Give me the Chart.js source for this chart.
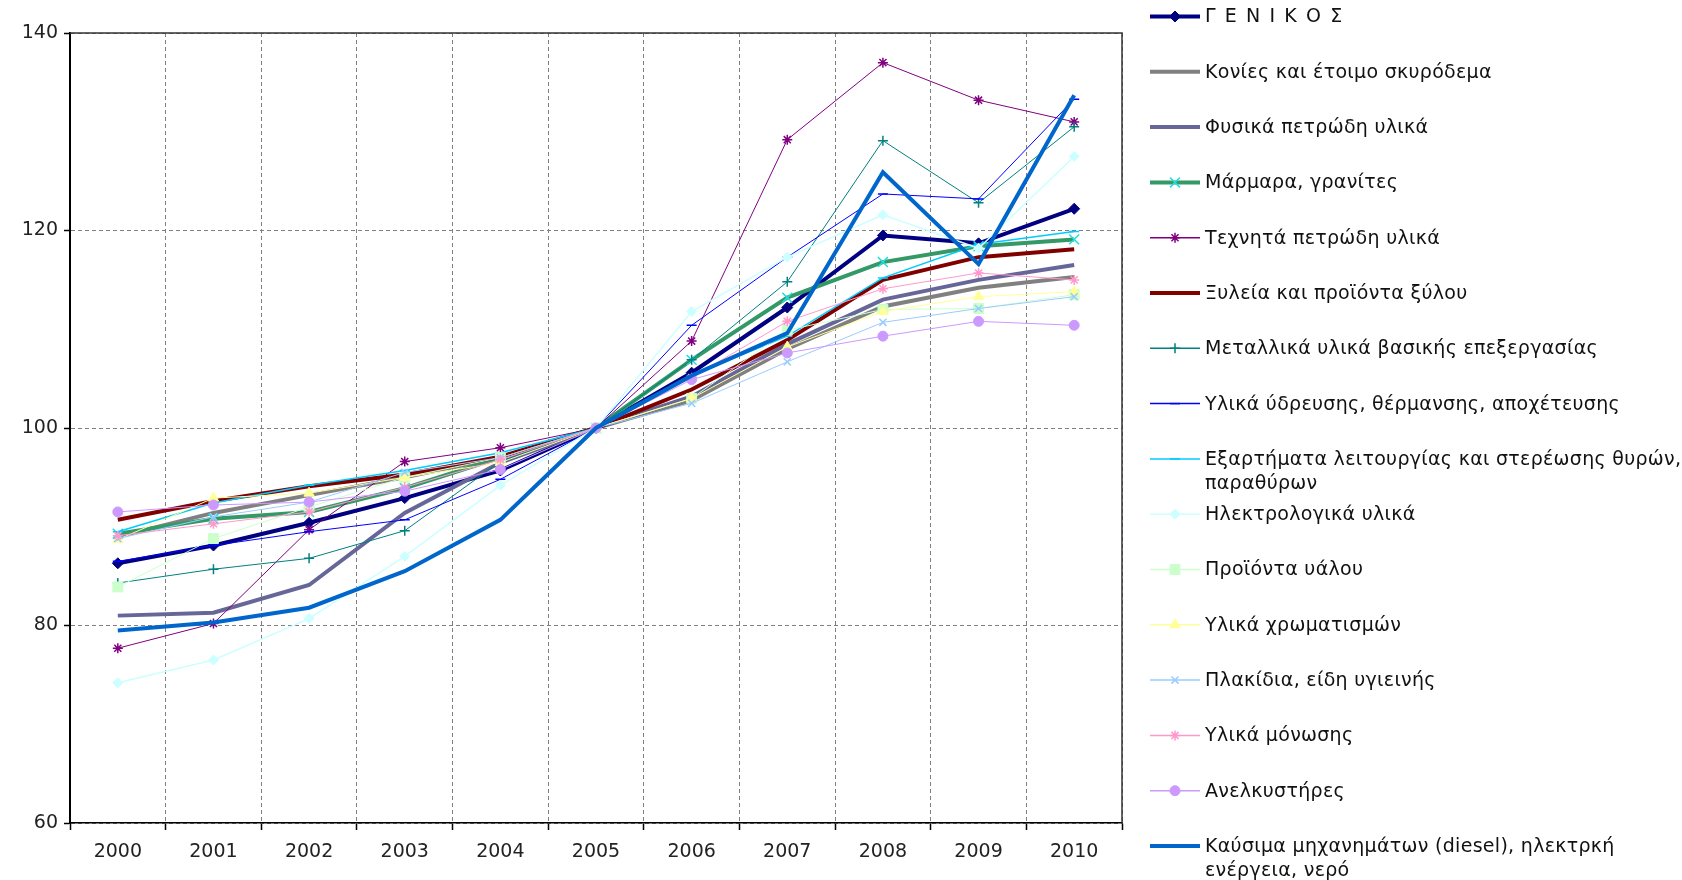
<!DOCTYPE html>
<html>
<head>
<meta charset="utf-8">
<script src="https://cdn.jsdelivr.net/npm/chart.js@4.4.0/dist/chart.umd.min.js"></script>
<style>
html,body{margin:0;padding:0;background:#fff;}
#wrap{position:relative;width:1682px;height:880px;}
</style>
</head>
<body>
<div id="wrap"><canvas id="c" width="1682" height="880"></canvas></div>
<script>
const years = ['2000','2001','2002','2003','2004','2005','2006','2007','2008','2009','2010'];
const yTicks = [60, 80, 100, 120, 140];

const seriesNames = [
  'Γ Ε Ν Ι Κ Ο Σ',
  'Κονίες και έτοιμο σκυρόδεμα',
  'Φυσικά πετρώδη υλικά',
  'Μάρμαρα, γρανίτες',
  'Τεχνητά πετρώδη υλικά',
  'Ξυλεία και προϊόντα ξύλου',
  'Μεταλλικά υλικά βασικής επεξεργασίας',
  'Υλικά ύδρευσης, θέρμανσης, αποχέτευσης',
  'Εξαρτήματα λειτουργίας και στερέωσης θυρών,\nπαραθύρων',
  'Ηλεκτρολογικά υλικά',
  'Προϊόντα υάλου',
  'Υλικά χρωματισμών',
  'Πλακίδια, είδη υγιεινής',
  'Υλικά μόνωσης',
  'Ανελκυστήρες',
  'Καύσιμα μηχανημάτων (diesel), ηλεκτρκή\nενέργεια, νερό'
];

const genikos     = [86.3, 88.1, 90.4, 92.9, 95.7, 100, 105.6, 112.2, 119.5, 118.7, 122.2];
const konies      = [89.0, 91.4, 93.2, 95.0, 97.0, 100, 102.8, 108.0, 112.3, 114.2, 115.3];
const fysika      = [81.0, 81.3, 84.1, 91.4, 96.5, 100, 103.2, 108.5, 113.0, 115.0, 116.5];
const marmara     = [89.3, 90.8, 91.5, 93.9, 97.0, 100, 106.9, 113.2, 116.8, 118.4, 119.1];
const texnita     = [77.7, 80.2, 89.7, 96.6, 98.0, 100, 108.8, 129.2, 137.0, 133.2, 131.0];
const xyleia      = [90.7, 92.6, 94.1, 95.3, 97.1, 100, 103.9, 108.9, 115.0, 117.3, 118.1];
const metallika   = [84.3, 85.7, 86.8, 89.6, 96.6, 100, 106.9, 114.8, 129.1, 122.8, 130.5];
const ydreusi     = [86.5, 88.1, 89.5, 90.7, 94.8, 100, 110.4, 117.3, 123.7, 123.2, 133.3];
const eksartimata = [89.5, 92.4, 94.2, 95.7, 97.5, 100, 105.3, 109.3, 115.2, 118.6, 119.9];
const ilektrologika = [74.2, 76.5, 80.7, 87.0, 94.2, 100, 111.8, 117.3, 121.6, 118.2, 127.5];
const yalou       = [83.9, 88.8, 92.0, 95.0, 97.0, 100, 103.0, 109.9, 112.0, 112.1, 113.5];
const xromatismon = [88.7, 92.9, 93.4, 95.0, 96.5, 100, 103.0, 108.2, 111.8, 113.3, 113.8];
const plakidia    = [88.8, 91.0, 92.5, 95.5, 97.0, 100, 102.5, 106.7, 110.7, 112.1, 113.3];
const monosi      = [89.1, 90.3, 91.5, 94.0, 96.8, 100, 105.1, 110.8, 114.1, 115.7, 115.0];
const anelkystires = [91.5, 92.2, 92.5, 93.6, 95.8, 100, 104.9, 107.6, 109.3, 110.8, 110.4];
const kausima     = [79.5, 80.3, 81.8, 85.5, 90.7, 100, 105.3, 109.6, 125.9, 116.6, 133.7];

const seriesData = [genikos, konies, fysika, marmara, texnita, xyleia, metallika, ydreusi,
  eksartimata, ilektrologika, yalou, xromatismon, plakidia, monosi, anelkystires, kausima];

const lineColors = ['#000080','#808080','#666699','#339966','#800080','#800000','#008080','#0000FF',
  '#00CCFF','#CCFFFF','#CCFFCC','#FFFF99','#99CCFF','#FF99CC','#CC99FF','#0066CC'];
const markerColors = ['#000080','#808080','#666699','#22DDDD','#800080','#800000','#008080','#0000FF',
  '#00CCFF','#CCFFFF','#CCFFCC','#FFFF99','#99CCFF','#FF99CC','#CC99FF','#0066CC'];
const lineWidths = [4, 4, 4, 4, 1, 4, 1, 1, 1.5, 1.5, 1, 1, 1, 1, 1, 4];
const markerStyles = ['rectRot', false, false, 'crossRot', 'star', false, 'cross', 'line',
  'line', 'rectRot', 'rect', 'triangle', 'crossRot', 'star', 'circle', false];
const markerSizes = [5.5, 0, 0, 7, 5, 0, 5, 5, 5, 5, 7, 6, 5, 5, 5, 0];

const FONT = "'DejaVu Sans', Verdana, sans-serif";
const N = seriesData.length;

const datasets = seriesData.map((d, i) => ({
  label: seriesNames[i],
  data: d,
  borderColor: lineColors[i],
  backgroundColor: markerColors[i],
  borderWidth: lineWidths[i],
  pointStyle: markerStyles[i] || 'circle',
  pointRadius: markerStyles[i] ? markerSizes[i] : 0,
  pointHoverRadius: markerStyles[i] ? markerSizes[i] : 0,
  pointBorderColor: markerColors[i],
  pointBackgroundColor: markerColors[i],
  pointBorderWidth: (markerStyles[i] === 'crossRot' || markerStyles[i] === 'cross' || markerStyles[i] === 'star' || markerStyles[i] === 'line') ? 1.5 : 1,
  tension: 0,
  fill: false,
  order: N - i
}));

const frame = {
  id: 'frame',
  afterDatasetsDraw(chart) {
    const {ctx, chartArea: a} = chart;
    ctx.save();
    ctx.strokeStyle = '#333';
    ctx.lineWidth = 1.5;
    ctx.beginPath();
    ctx.moveTo(a.left, a.top);
    ctx.lineTo(a.right, a.top);
    ctx.lineTo(a.right, a.bottom);
    ctx.stroke();
    ctx.restore();
  }
};

const legendPlugin = {
  id: 'customLegend',
  afterDraw(chart) {
    const ctx = chart.ctx;
    const x0 = 1150, x1 = 1200, tx = 1205, y0 = 16.5, dy = 55.3;
    ctx.save();
    chart.data.datasets.forEach((ds, i) => {
      const y = y0 + i * dy;
      ctx.strokeStyle = ds.borderColor;
      ctx.lineWidth = ds.borderWidth === 1 ? 1.5 : ds.borderWidth;
      ctx.beginPath();
      ctx.moveTo(x0, y);
      ctx.lineTo(x1, y);
      ctx.stroke();
      if (markerStyles[i]) {
        ctx.fillStyle = markerColors[i];
        ctx.strokeStyle = markerColors[i];
        ctx.lineWidth = ds.pointBorderWidth;
        Chart.helpers.drawPoint(ctx, {pointStyle: markerStyles[i], radius: markerSizes[i], rotation: 0, borderWidth: ds.pointBorderWidth}, (x0 + x1) / 2, y);
      }
      ctx.fillStyle = '#111';
      ctx.font = '19px ' + FONT;
      ctx.textBaseline = 'middle';
      ctx.textAlign = 'left';
      ctx.letterSpacing = i === 0 ? '1.6px' : '0.3px';
      const lines = ds.label.split('\n');
      lines.forEach((t, k) => ctx.fillText(t, tx, y + 1 + k * 23.7));
    });
    ctx.letterSpacing = '0px';
    ctx.restore();
  }
};

new Chart(document.getElementById('c'), {
  type: 'line',
  data: { labels: years, datasets },
  options: {
    responsive: false,
    animation: false,
    events: [],
    layout: { padding: { left: 0, right: 560, top: 33, bottom: 0 } },
    plugins: { legend: { display: false }, tooltip: { enabled: false } },
    scales: {
      x: {
        offset: true,
        afterFit(s) { s.height = 57; },
        grid: {
          offset: true,
          color: '#808080',
          lineWidth: 1,
          tickLength: 7,
          tickColor: '#000',
          tickBorderDash: [],
          tickWidth: 1.5
        },
        border: { display: true, color: '#000', width: 1.5, dash: [4, 3] },
        ticks: { color: '#222', font: { family: FONT, size: 19 }, padding: 11, maxRotation: 0, autoSkip: false }
      },
      y: {
        min: 60, max: 140,
        afterFit(s) { s.width = 70; },
        afterBuildTicks(s) { s.ticks = yTicks.map(v => ({ value: v })); },
        grid: {
          color: '#808080',
          lineWidth: 1,
          tickLength: 6,
          tickColor: '#000',
          tickBorderDash: [],
          tickWidth: 1.5
        },
        border: { display: true, color: '#000', width: 2, dash: [4, 3] },
        ticks: { color: '#222', font: { family: FONT, size: 19 }, padding: 6 }
      }
    }
  },
  plugins: [frame, legendPlugin]
});
</script>
</body>
</html>
